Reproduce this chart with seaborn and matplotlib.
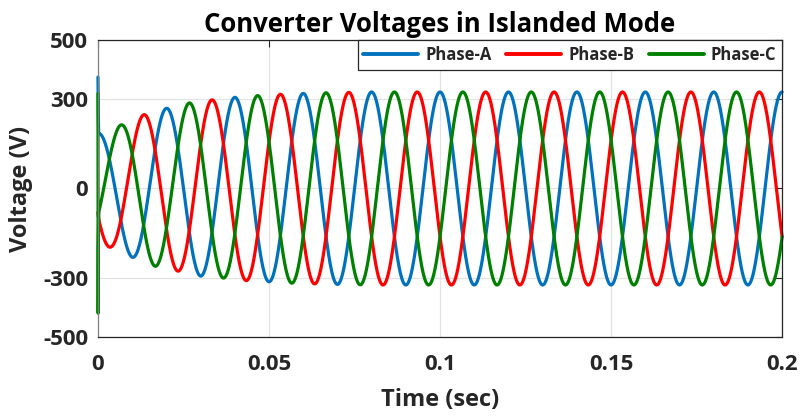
import numpy as np
import pandas as pd
import matplotlib
matplotlib.use("Agg")
import matplotlib.pyplot as plt
import seaborn as sns
from matplotlib.lines import Line2D

# --- values ---
phases = ["Phase-A", "Phase-B", "Phase-C"]
colors = ["#0072BD", "#FF0000", "#008000"]
freq_hz = 50.0
phase_deg = [0.0, 120.0, -120.0]          # cos(wt + phi)

# peak amplitude envelope (V) as it builds up after start
env_t = [0.0, 0.004, 0.0073, 0.0103, 0.0137, 0.017, 0.02, 0.024, 0.027, 0.03,
         0.034, 0.037, 0.04, 0.044, 0.047, 0.05, 0.053, 0.057, 0.065, 0.08, 0.2]
env_v = [185, 200, 217, 233, 250, 263, 270, 280, 289, 295,
         299, 302, 307, 311, 313, 314, 317, 319, 322, 325, 325]

# switching spike at t = 0
spike_t = [0.0, 0.00005, 0.0001, 0.0002]
spike_a = [375, 300, 250, 190]
spike_b = [-80, -90, -95, -95]
spike_c = [320, -420, -200, -95]
spikes = [spike_a, spike_b, spike_c]

t_end = 0.2
n_pts = 4000

# --- build long table ---
t = np.linspace(0.0003, t_end, n_pts)
amp = np.interp(t, env_t, env_v)
rows = []
for name, ph, sp in zip(phases, phase_deg, spikes):
    v = amp * np.cos(2 * np.pi * freq_hz * t + np.deg2rad(ph))
    tt = np.concatenate([spike_t, t])
    vv = np.concatenate([sp, v])
    rows.append(pd.DataFrame({"time": tt, "voltage": vv, "phase": name}))
df = pd.concat(rows, ignore_index=True)

sns.set_theme(style="whitegrid")
plt.rcParams["font.family"] = ["Open Sans", "DejaVu Sans"]
plt.rcParams["font.weight"] = "bold"
plt.rcParams["axes.unicode_minus"] = False

fig, ax = plt.subplots(figsize=(8.03, 4.17), dpi=100)
fig.subplots_adjust(left=0.122, right=0.974, top=0.904, bottom=0.192)
ax.set_facecolor("white")

sns.lineplot(data=df, x="time", y="voltage", hue="phase", palette=colors,
             estimator=None, sort=False, linewidth=2.3, ax=ax, legend=False)
for ln in ax.get_lines():
    ln.set_clip_on(False)

ax.set_xlim(0, 0.2)
ax.set_ylim(-500, 500)
ax.set_xticks([0, 0.05, 0.1, 0.15, 0.2])
ax.set_xticklabels(["0", "0.05", "0.1", "0.15", "0.2"])
ax.set_yticks([-500, -300, 0, 300, 500])
ax.grid(True, color="#e3e3e3", linewidth=0.9)
ax.tick_params(direction="in", length=5, width=0.8, top=True, right=True,
               labelsize=16, color="#262626")
ax.tick_params(axis="x", pad=12)
ax.tick_params(axis="y", pad=7)
for lab in ax.get_xticklabels() + ax.get_yticklabels():
    lab.set_fontweight("bold")
    lab.set_color("#262626")
for side in ["top", "right", "bottom"]:
    ax.spines[side].set_color("#262626")
    ax.spines[side].set_linewidth(0.9)
ax.spines["left"].set_color("#808080")
ax.spines["left"].set_linewidth(0.9)

ax.set_title("Converter Voltages in Islanded Mode", fontsize=18.5, fontweight="bold",
             color="black", pad=6)
ax.set_xlabel("Time (sec)", fontsize=17, fontweight="bold", color="#262626", labelpad=10)
ax.set_ylabel("Voltage (V)", fontsize=17, fontweight="bold", color="#262626", labelpad=7)

handles = [Line2D([], [], color=c, linewidth=2.8) for c in colors]
leg = ax.legend(handles, phases, loc="upper right", ncol=3, frameon=True,
                fancybox=False, framealpha=1, edgecolor="#262626",
                prop={"size": 12, "weight": "bold"}, handlelength=3.3,
                borderaxespad=0, columnspacing=0.9, handletextpad=0.4,
                borderpad=0.35)
leg.get_frame().set_linewidth(0.9)
leg.set_zorder(5)

fig.savefig("out.png", dpi=100)
